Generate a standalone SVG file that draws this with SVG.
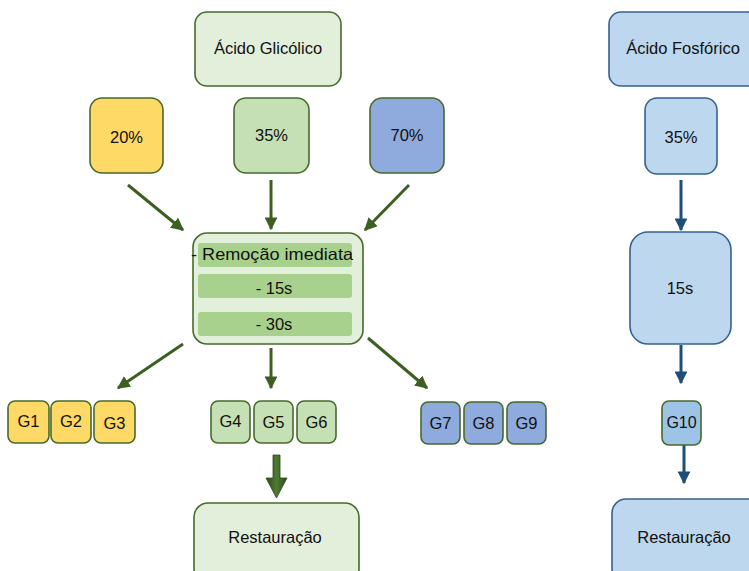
<svg xmlns="http://www.w3.org/2000/svg" width="749" height="571" viewBox="0 0 749 571">
<defs>
<style>
text{font-family:"Liberation Sans",Arial,sans-serif;font-size:16.5px;fill:#111;text-anchor:middle;dominant-baseline:central}
text.s{font-size:16px}
.g{stroke:#466a2b;stroke-width:1.6}
.b{stroke:#35628f;stroke-width:1.6}
.lg{fill:#e2efda}
.yl{fill:#ffd966}
.gr{fill:#c5e0b4}
.bl{fill:#8faadc}
.lb{fill:#bdd7ee}
.bar{fill:#a9d18e}
.cg{stroke:#3d5f22;stroke-width:3;fill:none}
.cb{stroke:#1f4e79;stroke-width:3;fill:none}
</style>
<marker id="ag" viewBox="0 0 10 10" refX="9" refY="5" markerWidth="4.3" markerHeight="4.3" orient="auto" markerUnits="strokeWidth">
<path d="M0,0 L10,5 L0,10 Z" fill="#3d5f22"/>
</marker>
<marker id="ab" viewBox="0 0 10 10" refX="9" refY="5" markerWidth="4.3" markerHeight="4.3" orient="auto" markerUnits="strokeWidth">
<path d="M0,0 L10,5 L0,10 Z" fill="#1f4e79"/>
</marker>
<linearGradient id="tg" x1="0" y1="0" x2="1" y2="0">
<stop offset="0" stop-color="#2f4a1c"/>
<stop offset="0.5" stop-color="#4f7a33"/>
<stop offset="1" stop-color="#2f4a1c"/>
</linearGradient>
</defs>

<g id="connectors">
<line class="cg" x1="128" y1="185" x2="183" y2="230" marker-end="url(#ag)"/>
<line class="cg" x1="271" y1="180" x2="271" y2="229" marker-end="url(#ag)"/>
<line class="cg" x1="409" y1="185" x2="365" y2="230" marker-end="url(#ag)"/>
<line class="cg" x1="183" y1="344" x2="118" y2="388" marker-end="url(#ag)"/>
<line class="cg" x1="271" y1="348" x2="271" y2="388" marker-end="url(#ag)"/>
<line class="cg" x1="368" y1="338" x2="427" y2="388" marker-end="url(#ag)"/>
<path d="M273,455 L280,455 L280,478 L287,478 L276.5,498 L266,478 L273,478 Z" fill="url(#tg)" stroke="#2f4a1c" stroke-width="0.8"/>
<line class="cb" x1="681" y1="180" x2="681" y2="230" marker-end="url(#ab)"/>
<line class="cb" x1="681" y1="345" x2="681" y2="383" marker-end="url(#ab)"/>
<line class="cb" x1="684" y1="445" x2="684" y2="483" marker-end="url(#ab)"/>
</g>

<g id="acido-glicolico"><rect class="g lg" x="195" y="12" width="146" height="74" rx="12"/><text x="268" y="48">Ácido Glicólico</text></g>
<g id="p20"><rect class="g yl" x="90" y="98" width="73" height="75" rx="12"/><text x="126.5" y="137">20%</text></g>
<g id="p35"><rect class="g gr" x="234" y="98" width="75" height="75" rx="12"/><text x="271.5" y="135">35%</text></g>
<g id="p70"><rect class="g bl" x="370" y="98" width="74" height="75" rx="12"/><text x="407" y="135">70%</text></g>

<g id="tempos">
<rect class="g lg" x="193" y="233" width="170" height="111" rx="14"/>
<rect class="bar" x="198" y="243" width="154" height="24" rx="3"/>
<rect class="bar" x="198" y="274" width="154" height="24" rx="3"/>
<rect class="bar" x="198" y="312" width="154" height="24" rx="3"/>
<text x="191" y="254" style="text-anchor:start" textLength="162" lengthAdjust="spacingAndGlyphs">- Remoção imediata</text>
<text x="274" y="288">- 15s</text>
<text x="274" y="324">- 30s</text>
</g>

<g id="G1"><rect class="g yl" x="8" y="401" width="41" height="42" rx="7"/><text x="28.5" y="421">G1</text></g>
<g id="G2"><rect class="g yl" x="51" y="401" width="40" height="42" rx="7"/><text x="71" y="421">G2</text></g>
<g id="G3"><rect class="g yl" x="94" y="401" width="41" height="42" rx="7"/><text x="114.5" y="423">G3</text></g>
<g id="G4"><rect class="g gr" x="211" y="401" width="39" height="42" rx="7"/><text x="230.5" y="421">G4</text></g>
<g id="G5"><rect class="g gr" x="254" y="401" width="39" height="42" rx="7"/><text x="273.5" y="422">G5</text></g>
<g id="G6"><rect class="g gr" x="297" y="401" width="39" height="42" rx="7"/><text x="316.5" y="422">G6</text></g>
<g id="G7"><rect class="g bl" x="421" y="402" width="39" height="42" rx="7"/><text x="440.5" y="423">G7</text></g>
<g id="G8"><rect class="g bl" x="464" y="402" width="39" height="42" rx="7"/><text x="483.5" y="423">G8</text></g>
<g id="G9"><rect class="g bl" x="507" y="402" width="39" height="42" rx="7"/><text x="526.5" y="423">G9</text></g>

<g id="restauracao-1"><rect class="g lg" x="194" y="503" width="165" height="80" rx="14"/><text x="275" y="537">Restauração</text></g>

<g id="acido-fosforico"><rect class="b lb" x="609" y="12" width="150" height="74" rx="12"/><text x="683" y="48">Ácido Fosfórico</text></g>
<g id="f35"><rect class="b lb" x="645" y="98" width="72" height="76" rx="12"/><text x="681" y="137">35%</text></g>
<g id="f15s"><rect class="b lb" x="630" y="232" width="101" height="112" rx="18"/><text x="680" y="288">15s</text></g>
<g id="G10"><rect class="g" fill="#9dc3e6" x="662" y="401" width="39" height="44" rx="7"/><text class="s" x="681.5" y="422">G10</text></g>
<g id="restauracao-2"><rect class="b lb" x="612" y="499" width="150" height="84" rx="14"/><text x="684" y="537">Restauração</text></g>
</svg>
